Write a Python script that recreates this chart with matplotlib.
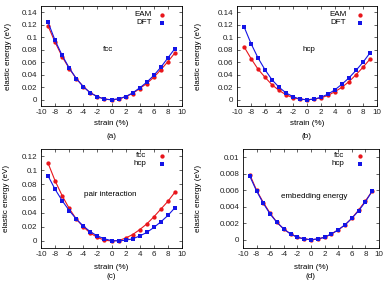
import matplotlib
matplotlib.use("Agg")
import matplotlib.pyplot as plt
from matplotlib.ticker import FuncFormatter

plt.rcParams['font.family'] = ['Liberation Sans', 'DejaVu Sans']
FS = 5.8

strain = [-9, -8, -7, -6, -5, -4, -3, -2, -1, 0, 1, 2, 3, 4, 5, 6, 7, 8, 9]

# (a) fcc
a_eam = [0.118, 0.092, 0.069, 0.050, 0.034, 0.021, 0.011, 0.005, 0.001, 0.0, 0.001, 0.005, 0.010, 0.018, 0.026, 0.036, 0.048, 0.061, 0.075]
a_dft = [0.124, 0.095, 0.071, 0.051, 0.034, 0.021, 0.011, 0.005, 0.001, 0.0, 0.0015, 0.005, 0.011, 0.019, 0.028, 0.039, 0.052, 0.067, 0.082]
# (b) hcp
b_eam = [0.085, 0.066, 0.049, 0.036, 0.024, 0.015, 0.008, 0.003, 0.001, 0.0, 0.001, 0.003, 0.007, 0.013, 0.020, 0.029, 0.040, 0.052, 0.065]
b_dft = [0.117, 0.090, 0.067, 0.048, 0.032, 0.020, 0.011, 0.005, 0.001, 0.0, 0.001, 0.004, 0.009, 0.016, 0.025, 0.035, 0.047, 0.060, 0.075]
# (c) pair interaction
c_fcc = [0.110, 0.085, 0.064, 0.046, 0.031, 0.020, 0.011, 0.005, 0.001, 0.0, 0.0005, 0.004, 0.009, 0.016, 0.024, 0.034, 0.045, 0.056, 0.069]
c_hcp = [0.092, 0.073, 0.057, 0.043, 0.031, 0.021, 0.013, 0.007, 0.003, 0.0005, 0.0, 0.001, 0.003, 0.007, 0.012, 0.019, 0.027, 0.036, 0.047]
# (d) embedding energy
d_fcc = [0.0079, 0.0060, 0.0045, 0.0032, 0.0021, 0.0013, 0.0007, 0.0003, 0.0001, 0.0, 0.0001, 0.0003, 0.0007, 0.0012, 0.0018, 0.0026, 0.0036, 0.0047, 0.0059]
d_hcp = [0.0077, 0.0059, 0.0044, 0.0031, 0.0021, 0.0013, 0.0007, 0.0003, 0.0001, 0.0, 0.0001, 0.0003, 0.0007, 0.0012, 0.0018, 0.0026, 0.0035, 0.0046, 0.0059]

xticks = list(range(-10, 11, 2))
W, H = 385, 281
RED = '#e8161c'
BLUE = '#1414e6'

fig = plt.figure(figsize=(W / 100, H / 100), dpi=100)

def make_ax(l, r, t, b):
    return fig.add_axes([l / W, 1 - b / H, (r - l) / W, (b - t) / H])

panels = [
    dict(box=(41, 182, 6, 106), s1=a_eam, s2=a_dft, n1='EAM', n2='DFT', ylim=(-0.01, 0.15),
         yt=[0, 0.02, 0.04, 0.06, 0.08, 0.1, 0.12, 0.14], txt='fcc', tpos=(-0.5, 0.08),
         leg=(0.785, 0.858, 0.91, 0.835), ylab=-0.234, xl=-0.175, lab='(a)', labx=-0.30),
    dict(box=(237, 377, 6, 106), s1=b_eam, s2=b_dft, n1='EAM', n2='DFT', ylim=(-0.01, 0.15),
         yt=[0, 0.02, 0.04, 0.06, 0.08, 0.1, 0.12, 0.14], txt='hcp', tpos=(0.3, 0.08),
         leg=(0.78, 0.88, 0.91, 0.835), ylab=-0.275, xl=-0.175, lab='(b)', labx=-0.30),
    dict(box=(41, 182, 149, 248), s1=c_fcc, s2=c_hcp, n1='fcc', n2='hcp', ylim=(-0.01, 0.13),
         yt=[0, 0.02, 0.04, 0.06, 0.08, 0.1, 0.12], txt='pair interaction', tpos=(-0.2, 0.065),
         leg=(0.745, 0.858, 0.93, 0.85), ylab=-0.248, xl=-0.2, lab='(c)', labx=-0.29),
    dict(box=(243, 379, 149, 248), s1=d_fcc, s2=d_hcp, n1='fcc', n2='hcp', ylim=(-0.001, 0.011),
         yt=[0, 0.002, 0.004, 0.006, 0.008, 0.01], txt='embedding energy', tpos=(0.5, 0.0053),
         leg=(0.745, 0.86, 0.93, 0.85), ylab=-0.326, xl=-0.2, lab='(d)', labx=-0.29),
]

for p in panels:
    ax = make_ax(*p['box'])
    ax.plot(strain, p['s1'], '-', color=RED, lw=0.8, zorder=2)
    ax.plot(strain, p['s1'], 'o', color=RED, ms=3.1, mew=0, zorder=3)
    ax.plot(strain, p['s2'], '-', color=BLUE, lw=0.8, zorder=4)
    ax.plot(strain, p['s2'], 's', color=BLUE, ms=3.4, mew=0, zorder=5)
    ax.set_xlim(-10, 10)
    ax.set_ylim(*p['ylim'])
    ax.set_xticks(xticks)
    ax.set_yticks(p['yt'])
    ax.yaxis.set_major_formatter(FuncFormatter(lambda v, pos: '%g' % v))
    ax.xaxis.set_major_formatter(FuncFormatter(lambda v, pos: '%g' % v))
    ax.tick_params(direction='in', length=2.5, width=0.5, labelsize=FS, pad=2.5,
                   top=True, right=True, colors='#222222')
    for s in ax.spines.values():
        s.set_linewidth(0.6)
    ax.text(*p['tpos'], p['txt'], fontsize=FS, ha='center', va='center')
    tx, mx, y1, y2 = p['leg']
    ax.text(tx, y1, p['n1'], transform=ax.transAxes, fontsize=FS, ha='right', va='center')
    ax.text(tx, y2, p['n2'], transform=ax.transAxes, fontsize=FS, ha='right', va='center')
    ax.plot([mx], [y1], 'o', color=RED, ms=3.1, mew=0, transform=ax.transAxes, clip_on=False)
    ax.plot([mx], [y2], 's', color=BLUE, ms=3.4, mew=0, transform=ax.transAxes, clip_on=False)
    ax.text(p['ylab'], 0.5, 'elastic energy (eV)', transform=ax.transAxes, fontsize=FS,
            rotation=90, ha='center', va='center')
    ax.text(0.5, p['xl'], 'strain (%)', transform=ax.transAxes, fontsize=FS,
            ha='center', va='center')
    ax.text(0.5, p['labx'], p['lab'], transform=ax.transAxes, fontsize=FS,
            ha='center', va='center')

fig.savefig('out.png', dpi=100)
